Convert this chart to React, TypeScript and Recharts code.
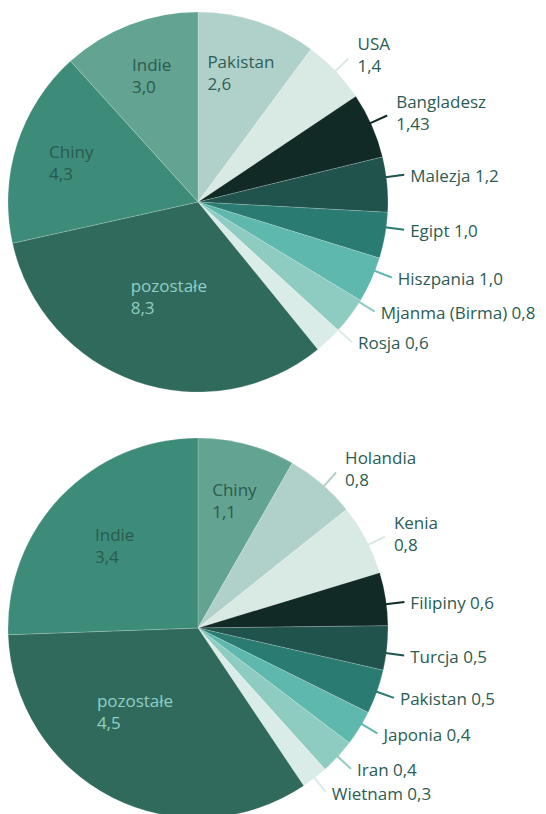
import React from 'react';
import { PieChart, Pie, Cell } from 'recharts';

// ---------- data: top chart ----------
const topNames = ['Pakistan', 'USA', 'Bangladesz', 'Malezja', 'Egipt', 'Hiszpania', 'Mjanma (Birma)', 'Rosja', 'pozostałe', 'Chiny', 'Indie'];
const topValues = [2.6, 1.4, 1.43, 1.2, 1.0, 1.0, 0.8, 0.6, 8.3, 4.3, 3.0];
const topValueLabels = ['2,6', '1,4', '1,43', '1,2', '1,0', '1,0', '0,8', '0,6', '8,3', '4,3', '3,0'];

// ---------- data: bottom chart ----------
const bottomNames = ['Chiny', 'Holandia', 'Kenia', 'Filipiny', 'Turcja', 'Pakistan', 'Japonia', 'Iran', 'Wietnam', 'pozostałe', 'Indie'];
const bottomValues = [1.1, 0.8, 0.8, 0.6, 0.5, 0.5, 0.4, 0.4, 0.3, 4.5, 3.4];
const bottomValueLabels = ['1,1', '0,8', '0,8', '0,6', '0,5', '0,5', '0,4', '0,4', '0,3', '4,5', '3,4'];

// ---------- styles ----------
const topColors = ['#B0D1C9', '#D9E9E4', '#112A26', '#1F534C', '#2A7B71', '#5FB8AD', '#8ECCC2', '#D9ECE8', '#2F6A5C', '#3D8B79', '#62A391'];
const bottomColors = ['#62A391', '#B0D1C9', '#D9E9E4', '#112A26', '#1F534C', '#2A7B71', '#5FB8AD', '#8ECCC2', '#D9ECE8', '#2F6A5C', '#3D8B79'];

const FONT_FAMILY = '"Open Sans", sans-serif';
const FONT_SIZE = 17;
const LINE_H = 22;
const LEADER = 18;
const TEXT_COLOR = '#2B5C54';
const RADIAN = Math.PI / 180;

type InsideStyle = { r: number; da?: number; color: string };
type PieStyle = {
  inside: Record<string, InsideStyle>;
  twoLine: string[];
  // leader direction tweak, degrees clockwise
  shift: Record<string, number>;
};

const topStyle: PieStyle = {
  inside: {
    Pakistan: { r: 0.72, color: '#2F5F57' },
    Indie: { r: 0.71, da: 1, color: '#2A5A50' },
    Chiny: { r: 0.7, color: '#2A5A50' },
    'pozostałe': { r: 0.52, da: -2, color: '#8FCFC3' },
  },
  twoLine: ['USA', 'Bangladesz'],
  shift: { Bangladesz: -0.8, Malezja: -2.2, Egipt: -2.5, Hiszpania: -2.9, 'Mjanma (Birma)': -5, Rosja: -4.4 },
};

const bottomStyle: PieStyle = {
  inside: {
    Chiny: { r: 0.7, da: 1, color: '#2A5A50' },
    Indie: { r: 0.62, da: 1, color: '#2A5A50' },
    'pozostałe': { r: 0.55, da: 10, color: '#8FCFC3' },
  },
  twoLine: ['Holandia', 'Kenia'],
  shift: { Holandia: 1, Kenia: 1.7, Filipiny: 1.6, Turcja: 1.5, Japonia: -1.4 },
};

let measureCtx: CanvasRenderingContext2D | null = null;
function measure(t: string): number {
  if (!measureCtx && typeof document !== 'undefined') {
    const c = document.createElement('canvas');
    measureCtx = c.getContext('2d');
  }
  if (!measureCtx) return t.length * FONT_SIZE * 0.55;
  measureCtx.font = `${FONT_SIZE}px "Open Sans"`;
  return measureCtx.measureText(t).width;
}

function makeLabel(names: string[], valueLabels: string[], colors: string[], style: PieStyle) {
  return (props: any) => {
    const { cx, cy, midAngle, outerRadius, index } = props;
    const name = names[index];
    const val = valueLabels[index];
    const ins = style.inside[name];
    if (ins) {
      const a = (midAngle - (ins.da ?? 0)) * RADIAN;
      const px = cx + outerRadius * ins.r * Math.cos(a);
      const py = cy - outerRadius * ins.r * Math.sin(a);
      const w = Math.max(measure(name), measure(val));
      const x = px - w / 2;
      return (
        <text key={`l-${index}`} fill={ins.color} fontSize={FONT_SIZE} fontFamily={FONT_FAMILY} dominantBaseline="central">
          <tspan x={x} y={py - LINE_H / 2}>{name}</tspan>
          <tspan x={x} y={py + LINE_H / 2}>{val}</tspan>
        </text>
      );
    }
    const a = (midAngle - (style.shift[name] ?? 0)) * RADIAN;
    const cos = Math.cos(a);
    const sin = Math.sin(a);
    const sx = cx + (outerRadius - 1) * cos;
    const sy = cy - (outerRadius - 1) * sin;
    const ex = cx + (outerRadius + LEADER) * cos;
    const ey = cy - (outerRadius + LEADER) * sin;
    const two = style.twoLine.includes(name);
    return (
      <g key={`l-${index}`}>
        <line x1={sx} y1={sy} x2={ex} y2={ey} stroke={colors[index]} strokeWidth={2} />
        {two ? (
          <text fill={TEXT_COLOR} fontSize={FONT_SIZE} fontFamily={FONT_FAMILY} dominantBaseline="central">
            <tspan x={ex + 9} y={ey - 4 - LINE_H / 2}>{name}</tspan>
            <tspan x={ex + 9} y={ey - 4 + LINE_H / 2}>{val}</tspan>
          </text>
        ) : (
          <text x={ex + 6} y={ey + 1} fill={TEXT_COLOR} fontSize={FONT_SIZE} fontFamily={FONT_FAMILY} dominantBaseline="central">
            {`${name} ${val}`}
          </text>
        )}
      </g>
    );
  };
}

const topData = topNames.map((n, i) => ({ name: n, value: topValues[i] }));
const bottomData = bottomNames.map((n, i) => ({ name: n, value: bottomValues[i] }));

export default function App() {
  return (
    <div style={{ position: 'absolute', left: 0, top: 0, width: 546, height: 814, overflow: 'hidden', background: '#fff' }}>
      <div style={{ position: 'absolute', left: 0, top: 0 }}>
        <PieChart width={546} height={410} margin={{ top: 0, right: 0, bottom: 0, left: 0 }}>
          <Pie
            data={topData}
            dataKey="value"
            nameKey="name"
            cx={198}
            cy={202}
            outerRadius={190}
            startAngle={90}
            endAngle={-270}
            stroke="rgba(255,255,255,0.3)"
            strokeWidth={0.6}
            isAnimationActive={false}
            labelLine={false}
            label={makeLabel(topNames, topValueLabels, topColors, topStyle)}
          >
            {topData.map((d, i) => (
              <Cell key={d.name} fill={topColors[i]} />
            ))}
          </Pie>
        </PieChart>
      </div>
      <div style={{ position: 'absolute', left: 0, top: 410 }}>
        <PieChart width={546} height={404} margin={{ top: 0, right: 0, bottom: 0, left: 0 }}>
          <Pie
            data={bottomData}
            dataKey="value"
            nameKey="name"
            cx={198}
            cy={218}
            outerRadius={190}
            startAngle={90}
            endAngle={-270}
            stroke="rgba(255,255,255,0.3)"
            strokeWidth={0.6}
            isAnimationActive={false}
            labelLine={false}
            label={makeLabel(bottomNames, bottomValueLabels, bottomColors, bottomStyle)}
          >
            {bottomData.map((d, i) => (
              <Cell key={d.name} fill={bottomColors[i]} />
            ))}
          </Pie>
        </PieChart>
      </div>
    </div>
  );
}
